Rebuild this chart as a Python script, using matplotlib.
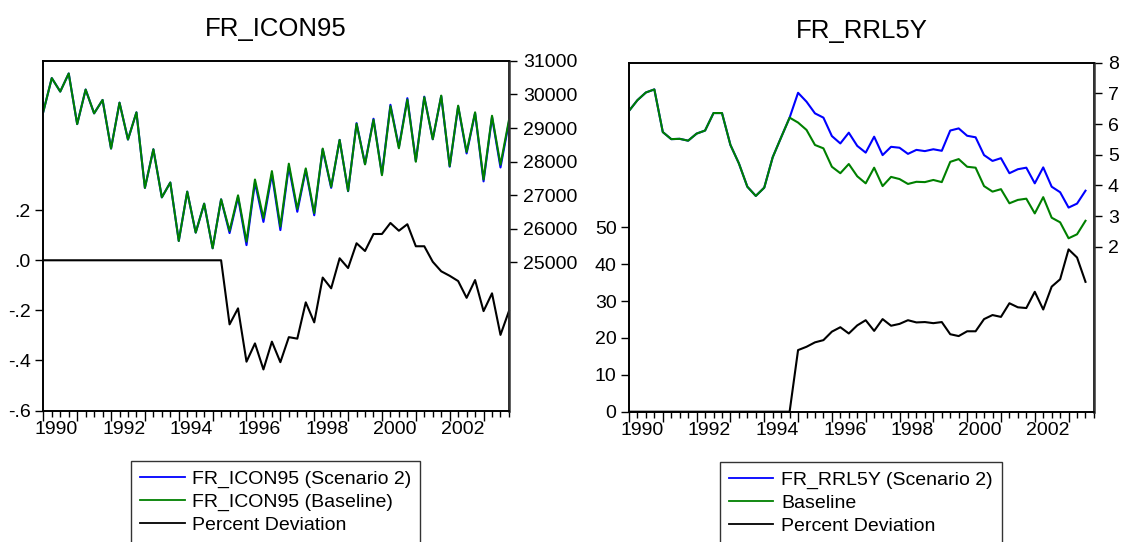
import matplotlib.pyplot as plt
import numpy as np
from matplotlib.lines import Line2D

plt.rcParams['font.family'] = ['Liberation Sans', 'DejaVu Sans']

# quarterly data, first observation 1990Q1
start_year = 1990

# FR_ICON95 baseline level and percent deviation of scenario 2 (1990Q1-2003Q4)
icon_base = [29486, 30489, 30087, 30627, 29116, 30147, 29437, 29837, 28386, 29756,
             28656, 29467, 27214, 28365, 26931, 27373, 25630, 27102, 25879, 26742,
             25411, 26871, 25931, 26991, 25609, 27463, 26312, 27713, 26060, 27935,
             26583, 27794, 26462, 28386, 27244, 28644, 27123, 29125, 27914, 29245,
             27592, 29648, 28395, 29846, 27995, 29918, 28665, 29966, 27863, 29666,
             28283, 29467, 27463, 29365, 27905, 29236]
icon_dev = [0.0] * 22 + [-0.256, -0.192, -0.405, -0.332, -0.436, -0.325, -0.407, -0.307,
                         -0.313, -0.168, -0.248, -0.069, -0.112, 0.008, -0.031, 0.068,
                         0.037, 0.105, 0.105, 0.149, 0.118, 0.144, 0.056, 0.056,
                         -0.006, -0.044, -0.062, -0.083, -0.150, -0.079, -0.203,
                         -0.132, -0.298, -0.203]

# FR_RRL5Y baseline, scenario 2 and percent deviation (1990Q1-2003Q3)
rrl_base = [6.43, 6.78, 7.03, 7.13, 5.74, 5.51, 5.52, 5.46, 5.69, 5.79,
            6.36, 6.36, 5.32, 4.72, 3.96, 3.66, 3.93, 4.92, 5.57, 6.21,
            6.05, 5.81, 5.32, 5.21, 4.61, 4.40, 4.70, 4.30, 4.07, 4.58,
            3.98, 4.28, 4.21, 4.05, 4.12, 4.11, 4.18, 4.11, 4.77, 4.86,
            4.61, 4.58, 3.98, 3.80, 3.88, 3.42, 3.53, 3.57, 3.09, 3.62,
            2.95, 2.80, 2.28, 2.41, 2.85]
rrl_scen = rrl_base[:20] + [7.02, 6.73, 6.35, 6.21, 5.61, 5.37, 5.72, 5.29, 5.07, 5.59,
                            4.99, 5.26, 5.23, 5.03, 5.16, 5.12, 5.18, 5.13, 5.79, 5.86,
                            5.62, 5.57, 4.99, 4.80, 4.89, 4.40, 4.53, 4.58, 4.07, 4.59,
                            3.96, 3.78, 3.28, 3.41, 3.83]
rrl_dev = [0.0] * 20 + [16.7, 17.6, 18.8, 19.4, 21.7, 22.9, 21.2, 23.4, 24.8, 21.9,
                        25.1, 23.3, 23.8, 24.8, 24.2, 24.3, 24.0, 24.3, 21.0, 20.5,
                        21.8, 21.8, 25.1, 26.2, 25.7, 29.4, 28.3, 28.1, 32.5, 27.7,
                        33.9, 35.9, 44.0, 41.8, 35.2]

year_labels = ['1990', '1992', '1994', '1996', '1998', '2000', '2002']

icon_left_ticks = [-0.6, -0.4, -0.2, 0.0, 0.2]
icon_left_labels = ['-.6', '-.4', '-.2', '.0', '.2']
icon_right_ticks = [25000, 26000, 27000, 28000, 29000, 30000, 31000]
rrl_left_ticks = [0, 10, 20, 30, 40, 50]
rrl_right_ticks = [2, 3, 4, 5, 6, 7, 8]

BLUE = '#0000ff'
GREEN = '#008000'
FS = 14


def quarters(n):
    return start_year + np.arange(n) / 4.0


# scenario 2 level rebuilt from the baseline and its percent deviation
icon_scen = np.array(icon_base) * (1 + np.array(icon_dev) / 100.0)

fig = plt.figure(figsize=(11.25, 5.42), dpi=100)
ax1 = fig.add_axes([0.0385, 0.2426, 0.4139, 0.6449])
ax2 = fig.add_axes([0.5591, 0.2404, 0.4133, 0.6439])


def style_panel(ax, axr, title):
    ax.set_xlim(1990, 2003.75)
    years = np.arange(1990, 2004)
    ax.set_xticks(years)
    ax.set_xticklabels([])
    ax.set_xticks(np.arange(1990, 2003.8, 0.25), minor=True)
    ax.tick_params(axis='x', which='major', length=7, width=1, direction='out')
    ax.tick_params(axis='x', which='minor', length=4, width=1, direction='out')
    for lab in year_labels:
        ax.text(int(lab) + 0.38, -0.03, lab, transform=ax.get_xaxis_transform(),
                ha='center', va='top', fontsize=FS)
    ax.tick_params(axis='y', length=6, width=1, pad=3, labelsize=FS)
    axr.tick_params(axis='y', length=6, width=1, pad=4, labelsize=FS)
    for sp in ax.spines.values():
        sp.set_linewidth(1.2)
    for sp in axr.spines.values():
        sp.set_linewidth(1.2)
    axr.spines['right'].set_color('#333333')
    axr.spines['right'].set_linewidth(1.8)
    ax.set_title(title, fontsize=18.5, pad=18)


# left panel: FR_ICON95
ax1r = ax1.twinx()
x = quarters(len(icon_base))
ax1.plot(x, icon_dev, color='black', lw=1.5, clip_on=False)
ax1r.plot(x, icon_scen, color=BLUE, lw=1.5)
ax1r.plot(x, icon_base, color=GREEN, lw=1.5)
ax1.set_ylim(-0.6, 0.796)
ax1.set_yticks(icon_left_ticks, labels=icon_left_labels)
ax1r.set_ylim(20570, 31000)
ax1r.set_yticks(icon_right_ticks, labels=[str(t) for t in icon_right_ticks])
style_panel(ax1, ax1r, 'FR_ICON95')

# right panel: FR_RRL5Y
ax2r = ax2.twinx()
x = quarters(len(rrl_base))
ax2.plot(x, rrl_dev, color='black', lw=1.5, clip_on=False)
ax2r.plot(x, rrl_scen, color=BLUE, lw=1.5)
ax2r.plot(x, rrl_base, color=GREEN, lw=1.5)
ax2.set_ylim(0, 94.6)
ax2.set_yticks(rrl_left_ticks, labels=[str(t) for t in rrl_left_ticks])
ax2r.set_ylim(-3.37, 8)
ax2r.set_yticks(rrl_right_ticks, labels=[str(t) for t in rrl_right_ticks])
style_panel(ax2, ax2r, 'FR_RRL5Y')


def add_legend(labels, anchor):
    handles = [Line2D([], [], color=c, lw=1.3) for c in (BLUE, GREEN, 'black')]
    leg = fig.legend(handles, labels, loc='upper left', bbox_to_anchor=anchor,
                     fontsize=FS, frameon=True, fancybox=False, edgecolor='black',
                     borderaxespad=0, borderpad=0.45, handlelength=2.3,
                     handletextpad=0.4, labelspacing=0.28)
    leg.get_frame().set_linewidth(1.0)


add_legend(['FR_ICON95 (Scenario 2)', 'FR_ICON95 (Baseline)', 'Percent Deviation'],
           (0.1165, 0.1494))
add_legend(['FR_RRL5Y (Scenario 2)', 'Baseline', 'Percent Deviation'],
           (0.640, 0.147))

fig.savefig('out.png', dpi=100)
